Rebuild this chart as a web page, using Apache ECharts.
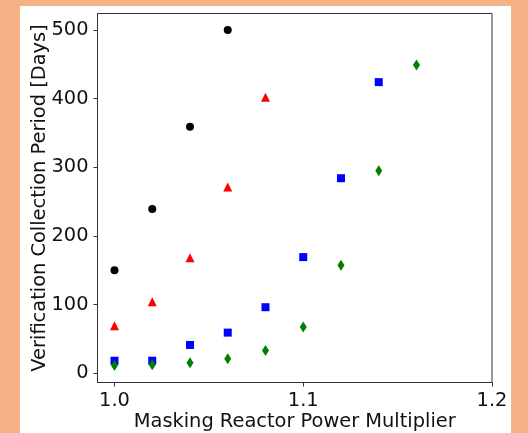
<!DOCTYPE html>
<html><head><meta charset="utf-8">
<script src="https://cdn.jsdelivr.net/npm/echarts@6/dist/echarts.min.js"></script>
<style>html,body{margin:0;padding:0;background:#F4B183;}#c{width:528px;height:433px;}</style>
</head><body><div id="c"></div>
<script>
const xCircle = [1.00, 1.02, 1.04, 1.06];
const yCircle = [150, 239, 359, 500];
const xTriangle = [1.00, 1.02, 1.04, 1.06, 1.08];
const yTriangle = [69, 104, 168, 271, 402];
const xSquare = [1.00, 1.02, 1.04, 1.06, 1.08, 1.10, 1.12, 1.14];
const ySquare = [18, 18, 41, 59, 96, 169, 284, 424];
const xDiamond = [1.00, 1.02, 1.04, 1.06, 1.08, 1.10, 1.12, 1.14, 1.16];
const yDiamond = [11, 12, 15, 21, 33, 67, 157, 295, 449];
const xTicks = [1.0, 1.1, 1.2];
const yTicks = [0, 100, 200, 300, 400, 500];

const zip = (a, b) => a.map((v, i) => [v, b[i]]);
const font = 'DejaVu Sans';
const fs = 19.4;
const chart = echarts.init(document.getElementById('c'), null, {renderer: 'canvas'});
chart.setOption({
  backgroundColor: '#F4B183',
  animation: false,
  graphic: [{type: 'rect', z: -10, shape: {x: 20, y: 6, width: 491, height: 427}, style: {fill: '#ffffff'}}],
  grid: {left: 97.5, right: 36, top: 13.5, bottom: 50.5, outerBoundsMode: 'none', containLabel: false, show: true, borderColor: '#333', borderWidth: 1, backgroundColor: 'transparent'},
  xAxis: {
    type: 'value', min: 0.991, max: 1.2,
    name: 'Masking Reactor Power Multiplier', nameLocation: 'middle', nameGap: 30, nameMoveOverlap: false,
    nameTextStyle: {fontFamily: font, fontSize: fs, color: '#111'},
    axisLine: {show: true, onZero: false, lineStyle: {color: '#333'}},
    axisTick: {show: true, length: 4, lineStyle: {color: '#333'}, customValues: xTicks},
    axisLabel: {fontFamily: font, fontSize: fs, color: '#111', margin: 9, customValues: xTicks, formatter: v => v.toFixed(1)},
    splitLine: {show: false}
  },
  yAxis: {
    type: 'value', min: -13.7, max: 524,
    name: 'Verification Collection Period [Days]', nameLocation: 'middle', nameGap: 48, nameMoveOverlap: false,
    nameTextStyle: {fontFamily: font, fontSize: fs, color: '#111'},
    axisLine: {show: true, onZero: false, lineStyle: {color: '#333'}},
    axisTick: {show: true, length: 4, lineStyle: {color: '#333'}, customValues: yTicks},
    axisLabel: {fontFamily: font, fontSize: fs, color: '#111', margin: 9, customValues: yTicks},
    splitLine: {show: false}
  },
  series: [
    {type: 'scatter', data: zip(xCircle, yCircle), symbol: 'circle', symbolSize: 8, itemStyle: {color: '#000000', opacity: 1}},
    {type: 'scatter', data: zip(xTriangle, yTriangle), symbol: 'triangle', symbolSize: 9, itemStyle: {color: '#ff0000', opacity: 1}},
    {type: 'scatter', data: zip(xSquare, ySquare), symbol: 'rect', symbolSize: 8, itemStyle: {color: '#0000ff', opacity: 1}},
    {type: 'scatter', data: zip(xDiamond, yDiamond), symbol: 'diamond', symbolSize: [7, 11], itemStyle: {color: '#008000', opacity: 1}}
  ]
});
</script></body></html>
